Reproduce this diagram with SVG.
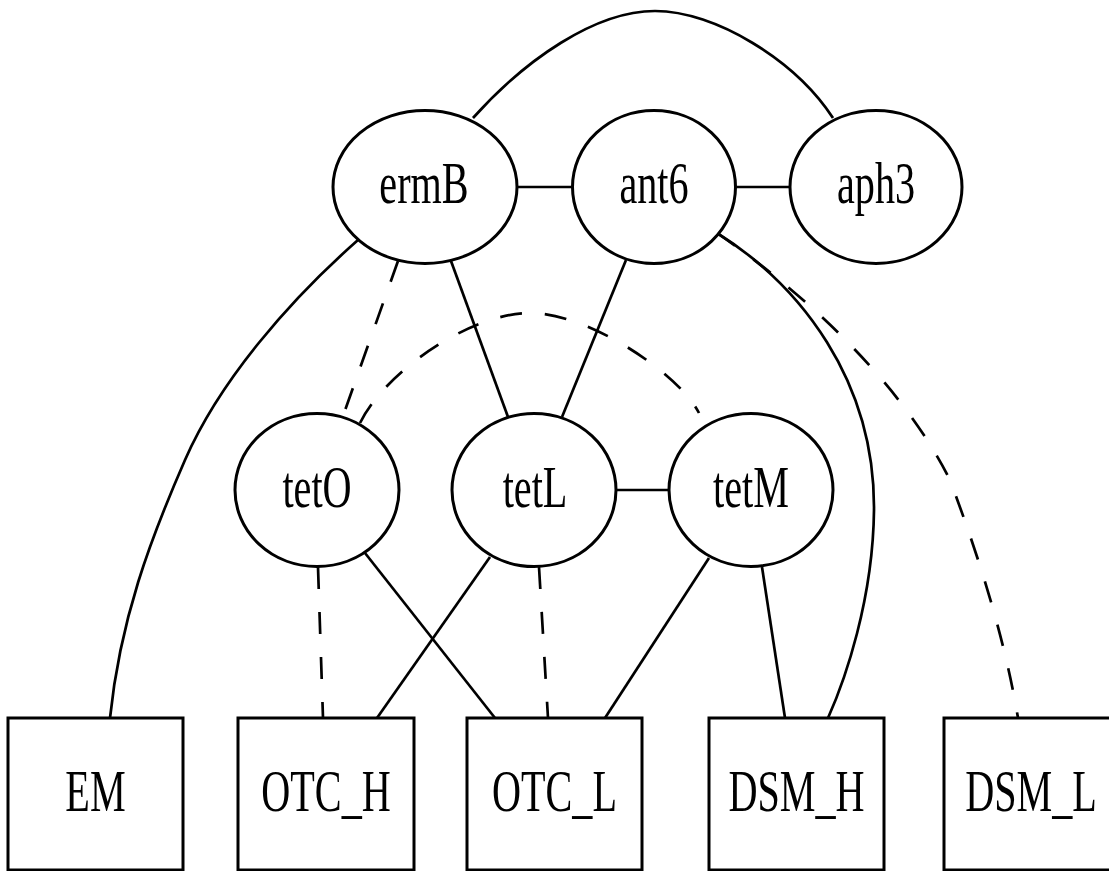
<svg xmlns="http://www.w3.org/2000/svg" width="1109" height="871" viewBox="0 0 1109 871">
  <style>
    .node ellipse, .node rect { fill: #ffffff; stroke: #000000; stroke-width: 3; }
    .node text { font-family: "Liberation Serif", "Times New Roman", serif; font-size: 60px; text-anchor: middle; fill: #000000; }
    #edges path { fill: none; stroke: #000000; stroke-width: 2.7; }
    #edges .dash { stroke-dasharray: 22 23; }
  </style>
  <rect x="0" y="0" width="1109" height="871" fill="#ffffff"/>

  <!-- connectors -->
  <g id="edges">
    <path d="M473,118 C525,60 595,11 655,11 C715,11 795,60 833,118"/>
    <path d="M516,187 L572,187"/>
    <path d="M735,187 L790,187"/>
    <path d="M358,240 C290,300 220,380 185,460 C150,540 120,620 110,718"/>
    <path class="dash" d="M398,261 L343,416"/>
    <path d="M451,261 L508,417"/>
    <path d="M626,260 L562,417"/>
    <path class="dash" d="M360,423 C385,372 470,313 530,313 C590,313 680,375 699,413"/>
    <path d="M615,490 L669,490"/>
    <path d="M717,233 C800,285 875,380 874,510 C873,600 845,680 828,718"/>
    <path class="dash" d="M717,233 C800,290 900,380 950,480 C980,560 1005,640 1018,718"/>
    <path class="dash" d="M318,567 L323,718"/>
    <path d="M365,553 L495,718"/>
    <path d="M490,557 L377,718"/>
    <path class="dash" d="M539,567 L548,718"/>
    <path d="M709,558 L605,718"/>
    <path d="M762,567 L785,718"/>
  </g>

  <!-- gene nodes -->
  <g id="ermB" class="node">
    <ellipse cx="425" cy="187" rx="92" ry="76.5"/>
    <text transform="translate(424 203) scale(0.67 1)">ermB</text>
  </g>
  <g id="ant6" class="node">
    <ellipse cx="654" cy="187" rx="81.5" ry="76.5"/>
    <text transform="translate(654 203) scale(0.67 1)">ant6</text>
  </g>
  <g id="aph3" class="node">
    <ellipse cx="876" cy="187" rx="86" ry="76.5"/>
    <text transform="translate(876 203) scale(0.67 1)">aph3</text>
  </g>
  <g id="tetO" class="node">
    <ellipse cx="317" cy="490" rx="82" ry="76.5"/>
    <text transform="translate(317 507) scale(0.67 1)">tetO</text>
  </g>
  <g id="tetL" class="node">
    <ellipse cx="534" cy="490" rx="82" ry="76.5"/>
    <text transform="translate(535 507) scale(0.67 1)">tetL</text>
  </g>
  <g id="tetM" class="node">
    <ellipse cx="751" cy="490" rx="82" ry="76.5"/>
    <text transform="translate(751 507) scale(0.67 1)">tetM</text>
  </g>

  <!-- group nodes -->
  <g id="EM" class="node">
    <rect x="8" y="718" width="175" height="152"/>
    <text transform="translate(95.5 811) scale(0.67 1)">EM</text>
  </g>
  <g id="OTC_H" class="node">
    <rect x="238" y="718" width="176" height="152"/>
    <text transform="translate(326 811) scale(0.67 1)">OTC_H</text>
  </g>
  <g id="OTC_L" class="node">
    <rect x="467" y="718" width="175" height="152"/>
    <text transform="translate(554.5 811) scale(0.67 1)">OTC_L</text>
  </g>
  <g id="DSM_H" class="node">
    <rect x="709" y="718" width="175" height="152"/>
    <text transform="translate(796.5 811) scale(0.67 1)">DSM_H</text>
  </g>
  <g id="DSM_L" class="node">
    <rect x="944" y="718" width="176" height="152"/>
    <text transform="translate(1031 811) scale(0.67 1)">DSM_L</text>
  </g>
</svg>
